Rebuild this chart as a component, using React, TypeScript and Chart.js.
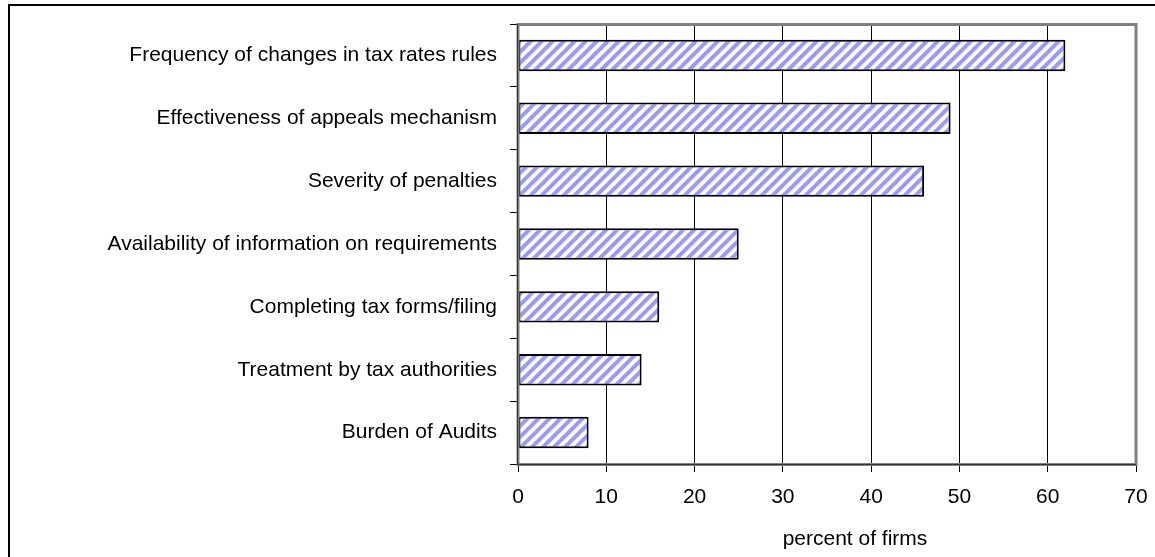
import React, { useEffect, useRef } from "react";
import { Chart, registerables } from "chart.js";

Chart.register(...registerables);

const categories = [
  "Frequency of changes in tax rates rules",
  "Effectiveness of appeals mechanism",
  "Severity of penalties",
  "Availability of information on requirements",
  "Completing tax forms/filing",
  "Treatment by tax authorities",
  "Burden of Audits",
];
const values = [62, 49, 46, 25, 16, 14, 8];
const xMin = 0;
const xMax = 70;
const xStep = 10;
const xTitle = "percent of firms";

const FONT_FAMILY = '"Liberation Sans", Arial, sans-serif';
const FONT_SIZE = 21;

function makeStripePattern(): CanvasPattern | string {
  const s = 11;
  const c = document.createElement("canvas");
  c.width = s;
  c.height = s;
  const g = c.getContext("2d");
  if (!g) return "#9999ff";
  g.fillStyle = "#ffffff";
  g.fillRect(0, 0, s, s);
  g.strokeStyle = "#9999ff";
  g.lineWidth = 4;
  g.beginPath();
  for (const k of [-s, 0, s]) {
    g.moveTo(k - 2, s + 2);
    g.lineTo(k + s + 2, -2);
  }
  g.stroke();
  const p = g.createPattern(c, "repeat");
  return p || "#9999ff";
}

const framePlugin = {
  id: "plotFrame",
  afterDatasetsDraw(chart: any) {
    const { ctx, chartArea } = chart;
    const { left, right, top, bottom } = chartArea;
    ctx.save();
    ctx.strokeStyle = "#808080";
    ctx.lineWidth = 3;
    ctx.strokeRect(left, top + 0.5, right - left, bottom - top);
    ctx.strokeStyle = "#333333";
    ctx.lineWidth = 1;
    ctx.beginPath();
    ctx.moveTo(left - 0.5, top);
    ctx.lineTo(left - 0.5, bottom + 0.5);
    ctx.lineTo(right, bottom + 0.5);
    ctx.stroke();
    ctx.restore();
  },
};

const xTitlePlugin = {
  id: "xTitle",
  afterDraw(chart: any) {
    const { ctx, chartArea } = chart;
    ctx.save();
    ctx.font = `${FONT_SIZE}px ${FONT_FAMILY}`;
    ctx.fillStyle = "#000";
    ctx.textAlign = "center";
    ctx.textBaseline = "alphabetic";
    ctx.fillText(xTitle, (chartArea.left + chartArea.right) / 2 + 28, chartArea.bottom + 81);
    ctx.restore();
  },
};

export default function App() {
  const ref = useRef<HTMLCanvasElement | null>(null);

  useEffect(() => {
    if (!ref.current) return;
    const chart = new Chart(ref.current, {
      type: "bar",
      data: {
        labels: categories,
        datasets: [
          {
            data: values,
            backgroundColor: makeStripePattern() as any,
            borderColor: "#000",
            borderWidth: 2,
            borderSkipped: false,
            categoryPercentage: 1,
            barPercentage: 0.5,
          },
        ],
      },
      options: {
        indexAxis: "y",
        animation: false,
        responsive: false,
        devicePixelRatio: 1,
        layout: { padding: { top: 24, right: 19, left: 0, bottom: 0 } },
        plugins: {
          legend: { display: false },
          tooltip: { enabled: false },
          title: { display: false },
        },
        scales: {
          x: {
            type: "linear",
            position: "bottom",
            min: xMin,
            max: xMax,
            ticks: {
              stepSize: xStep,
              color: "#000",
              padding: 13,
              font: { family: FONT_FAMILY, size: FONT_SIZE },
            },
            grid: {
              color: "#000",
              lineWidth: 1,
              drawOnChartArea: true,
              drawTicks: true,
              tickLength: 8,
            },
            border: { display: false },
            afterFit(scale: any) {
              scale.height = 93;
              scale.paddingLeft = 0;
              scale.paddingRight = 0;
            },
          },
          y: {
            type: "category",
            position: "left",
            ticks: {
              color: "#000",
              padding: 13,
              font: { family: FONT_FAMILY, size: FONT_SIZE },
              autoSkip: false,
            },
            grid: {
              color: "#000",
              lineWidth: 1,
              drawOnChartArea: false,
              drawTicks: true,
              tickLength: 8,
              offset: true,
            },
            border: { display: false },
            afterFit(scale: any) {
              scale.width = 518;
              scale.paddingTop = 0;
              scale.paddingBottom = 0;
            },
          },
        },
      },
      plugins: [framePlugin, xTitlePlugin],
    });
    return () => chart.destroy();
  }, []);

  return (
    <div style={{ position: "fixed", left: 0, top: 0, width: 1155, height: 557, background: "#fff", overflow: "hidden" }}>
      <div
        style={{
          position: "absolute",
          left: 8,
          top: 4,
          width: 1300,
          height: 700,
          borderTop: "2px solid #000",
          borderLeft: "2px solid #000",
          boxSizing: "border-box",
        }}
      />
      <canvas
        ref={ref}
        width={1155}
        height={557}
        style={{ position: "absolute", left: 0, top: 0, width: 1155, height: 557, display: "block" }}
      />
    </div>
  );
}
